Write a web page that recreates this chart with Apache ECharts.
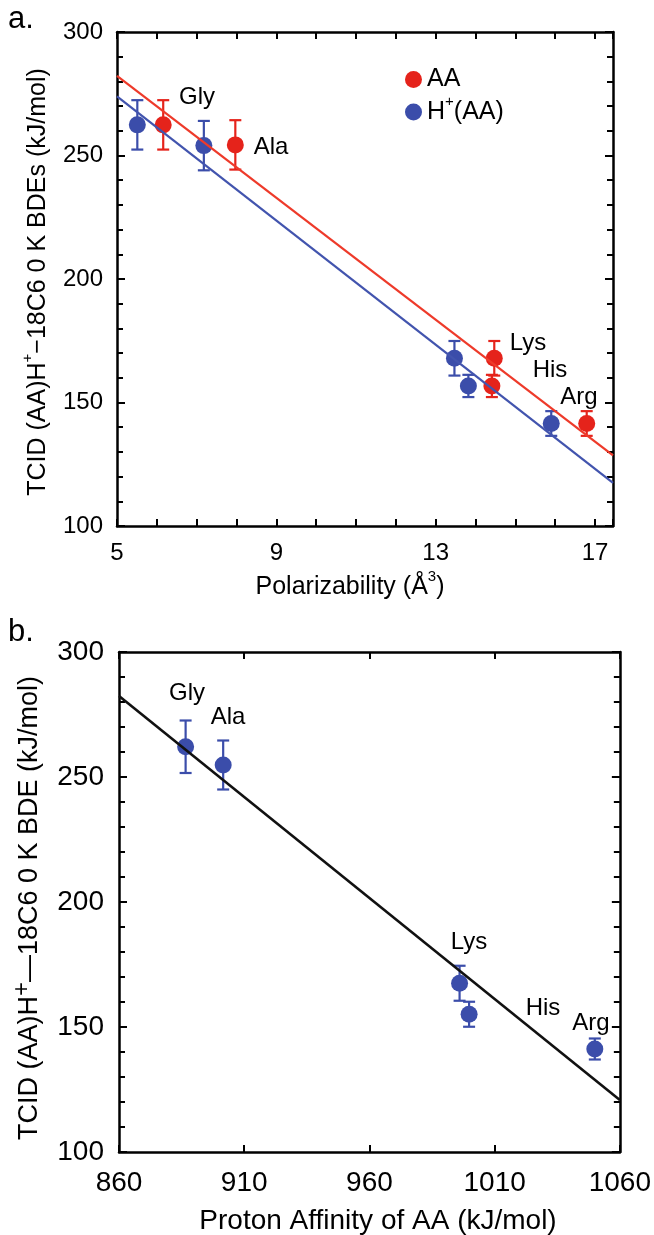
<!DOCTYPE html>
<html>
<head>
<meta charset="utf-8">
<script src="https://cdn.jsdelivr.net/npm/echarts@6/dist/echarts.min.js"></script>
<style>
  html, body { margin: 0; padding: 0; background: #fff; }
  #main { width: 654px; height: 1235px; }
</style>
</head>
<body>
<div id="main"></div>
<script>
  // panel a: polarizability
  var polAA = [6.16, 7.97, 14.47, 14.41, 16.79];
  var polH = [5.51, 7.18, 13.47, 13.82, 15.90];
  var bdeAA = [262.4, 254.3, 167.9, 156.7, 141.5];
  var bdeH = [262.4, 254.0, 167.9, 156.7, 141.5];
  var errA = [10, 10, 7, 4.5, 5];
  var fitAA = [[5, 282.2], [17.45, 128.6]];
  var fitH = [[5, 273.9], [17.45, 117.5]];

  // panel b: proton affinity
  var pa = [886.6, 901.6, 996.0, 999.8, 1050.0];
  var bdeB = [262.1, 254.8, 167.5, 155.1, 141.2];
  var errB = [10.5, 9.8, 7, 5, 4.2];
  var fitB = [[860, 282.4], [1060, 120.8]];

  var aminoNames = ['Gly', 'Ala', 'Lys', 'His', 'Arg'];

  var RED = '#e5231b';
  var BLUE = '#3b4daa';
  var FONT = 'Liberation Sans, Arial, sans-serif';

  function pts(xs, ys) {
    return xs.map(function (x, i) { return [x, ys[i]]; });
  }
  function bars(xs, ys, es) {
    return xs.map(function (x, i) { return [x, ys[i] - es[i], ys[i] + es[i]]; });
  }
  function errorItem(color) {
    return function (params, api) {
      var x = api.value(0);
      var hi = api.coord([x, api.value(2)]);
      var lo = api.coord([x, api.value(1)]);
      var w = 6;
      var st = { stroke: color, lineWidth: 2.2 };
      return {
        type: 'group',
        children: [
          { type: 'line', shape: { x1: hi[0], y1: hi[1], x2: lo[0], y2: lo[1] }, style: st },
          { type: 'line', shape: { x1: hi[0] - w, y1: hi[1], x2: hi[0] + w, y2: hi[1] }, style: st },
          { type: 'line', shape: { x1: lo[0] - w, y1: lo[1], x2: lo[0] + w, y2: lo[1] }, style: st }
        ]
      };
    };
  }

  function xAx(grid, pos, min, max, interval, show, fmt, size, margin) {
    return {
      type: 'value', gridIndex: grid, position: pos, min: min, max: max, interval: interval,
      axisLine: { show: true, onZero: false, lineStyle: { color: '#000', width: 2.5 } },
      axisTick: { show: true, inside: true, length: 7, lineStyle: { color: '#000', width: 2 } },
      splitLine: { show: false },
      axisLabel: { show: show, formatter: fmt, color: '#000', fontSize: size, fontFamily: FONT, margin: margin }
    };
  }
  function yAx(grid, pos, show, size, margin) {
    return {
      type: 'value', gridIndex: grid, position: pos, min: 100, max: 300, interval: 50,
      axisLine: { show: true, onZero: false, lineStyle: { color: '#000', width: 2.5 } },
      axisTick: { show: true, inside: true, length: 8, lineStyle: { color: '#000', width: 2 } },
      minorTick: { show: true, splitNumber: 5, length: 6, lineStyle: { color: '#000', width: 2 } },
      splitLine: { show: false },
      axisLabel: { show: show, color: '#000', fontSize: size, fontFamily: FONT, margin: margin }
    };
  }

  var fmtA = function (v) { return (Math.abs(v - Math.round(v)) < 1e-6 && (v - 5) % 4 === 0) ? String(v) : ''; };
  var fmtB = function (v) { return (v - 860) % 50 === 0 ? String(v) : ''; };

  function txt(x, y, s, size) {
    return { type: 'text', x: x, y: y, style: { text: s, fontSize: size || 24, fontFamily: FONT, fill: '#000', align: 'center', verticalAlign: 'middle' } };
  }
  // text with one raised part, e.g. H+ or Å3
  function supRich(size, supSize) {
    return {
      n: { fontSize: size, fontFamily: FONT, fill: '#000', lineHeight: Math.round(size * 1.45) },
      s: { fontSize: supSize, fontFamily: FONT, fill: '#000', lineHeight: supSize, verticalAlign: 'top' }
    };
  }

  var labelPosA = [[197, 97], [271, 147], [528, 343], [550, 370], [579, 397]];
  var labelPosB = [[187, 693], [228, 717], [469, 942], [543, 1008], [591, 1023]];

  var graphics = [
    { type: 'text', x: 8, y: 4, style: { text: 'a.', fontSize: 31, fontFamily: FONT, fill: '#000' } },
    { type: 'text', x: 8, y: 617, style: { text: 'b.', fontSize: 31, fontFamily: FONT, fill: '#000' } },
    {
      type: 'text', x: 38, y: 282, rotation: Math.PI / 2,
      style: {
        text: '{n|TCID (AA)H}{s|+}{n|−18C6 0 K BDEs (kJ/mol)}', fill: '#000', align: 'center', verticalAlign: 'middle',
        rich: supRich(25, 15)
      }
    },
    {
      type: 'text', x: 350, y: 587,
      style: {
        text: '{n|Polarizability (Å}{s|3}{n|)}', fill: '#000', align: 'center', verticalAlign: 'middle',
        rich: supRich(25, 15)
      }
    },
    {
      type: 'text', x: 30, y: 908, rotation: Math.PI / 2,
      style: {
        text: '{n|TCID (AA)H}{s|+}{n|—18C6 0 K BDE (kJ/mol)}', fill: '#000', align: 'center', verticalAlign: 'middle',
        rich: supRich(27, 24)
      }
    },
    txt(378, 1221, 'Proton Affinity of AA (kJ/mol)', 28)
  ];
  aminoNames.forEach(function (n, i) {
    graphics.push(txt(labelPosA[i][0], labelPosA[i][1], n, 24));
    graphics.push(txt(labelPosB[i][0], labelPosB[i][1], n, 24));
  });

  var option = {
    backgroundColor: '#fff',
    animation: false,
    grid: [
      { left: 117, top: 32, width: 496, height: 494 },
      { left: 119, top: 652, width: 502, height: 500 }
    ],
    legend: {
      data: ['AA', 'H+(AA)'],
      orient: 'vertical',
      left: 400, top: 62,
      itemWidth: 17, itemHeight: 17, itemGap: 2,
      icon: 'circle',
      textStyle: {
        fontSize: 25, fontFamily: FONT, color: '#000',
        rich: supRich(25, 15)
      },
      formatter: function (name) {
        return name === 'AA' ? '{n|AA}' : '{n|H}{s|+}{n|(AA)}';
      }
    },
    xAxis: [
      xAx(0, 'bottom', 5, 17.45, 1, true, fmtA, 24, 15),
      xAx(0, 'top', 5, 17.45, 1, false, fmtA, 24, 15),
      xAx(1, 'bottom', 860, 1060, 50, true, fmtB, 28, 17),
      xAx(1, 'top', 860, 1060, 50, false, fmtB, 28, 17)
    ],
    yAxis: [
      yAx(0, 'left', true, 24, 14),
      yAx(0, 'right', false, 24, 14),
      yAx(1, 'left', true, 28, 15),
      yAx(1, 'right', false, 28, 15)
    ],
    graphic: graphics,
    series: [
      { type: 'line', xAxisIndex: 0, yAxisIndex: 0, data: fitAA, symbol: 'none', silent: true, lineStyle: { color: '#ee3a2a', width: 2.2 } },
      { type: 'line', xAxisIndex: 0, yAxisIndex: 0, data: fitH, symbol: 'none', silent: true, lineStyle: { color: '#4254ae', width: 2.2 } },
      { type: 'custom', xAxisIndex: 0, yAxisIndex: 0, data: bars(polAA, bdeAA, errA), renderItem: errorItem(RED) },
      { type: 'custom', xAxisIndex: 0, yAxisIndex: 0, data: bars(polH, bdeH, errA), renderItem: errorItem(BLUE) },
      { name: 'AA', type: 'scatter', xAxisIndex: 0, yAxisIndex: 0, data: pts(polAA, bdeAA), symbolSize: 17, itemStyle: { color: RED, opacity: 1 } },
      { name: 'H+(AA)', type: 'scatter', xAxisIndex: 0, yAxisIndex: 0, data: pts(polH, bdeH), symbolSize: 17, itemStyle: { color: BLUE, opacity: 1 } },

      { type: 'line', xAxisIndex: 2, yAxisIndex: 2, data: fitB, symbol: 'none', silent: true, lineStyle: { color: '#111', width: 2.6 } },
      { type: 'custom', xAxisIndex: 2, yAxisIndex: 2, data: bars(pa, bdeB, errB), renderItem: errorItem(BLUE) },
      { name: 'PA', type: 'scatter', xAxisIndex: 2, yAxisIndex: 2, data: pts(pa, bdeB), symbolSize: 17, itemStyle: { color: BLUE, opacity: 1 } }
    ]
  };

  var myChart = echarts.init(document.getElementById('main'));
  myChart.setOption(option);
</script>
</body>
</html>
